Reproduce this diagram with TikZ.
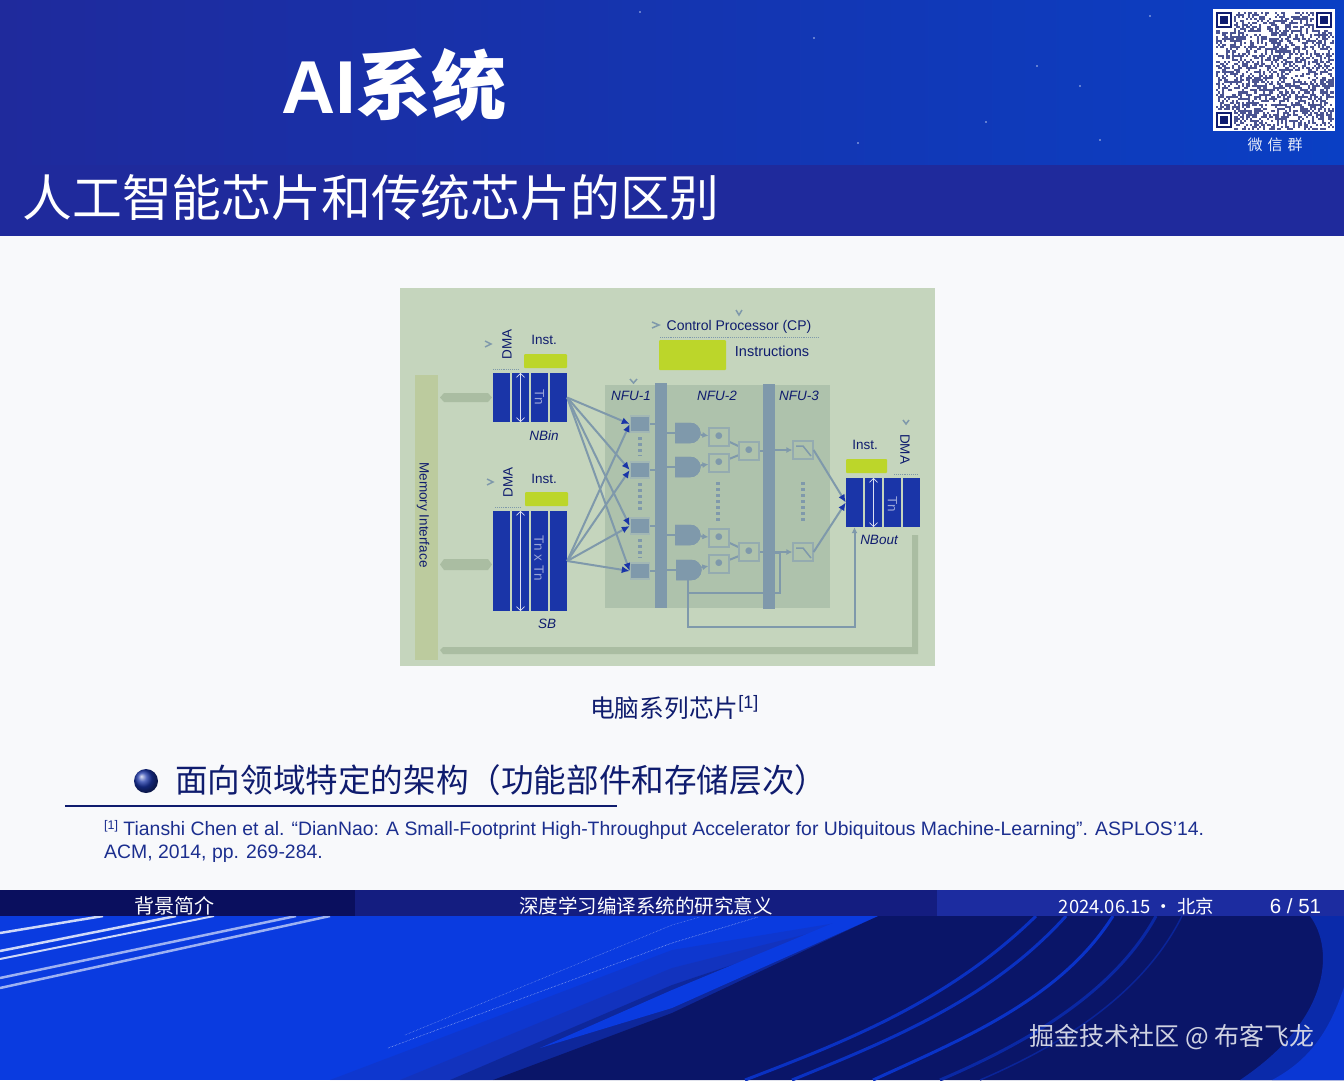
\documentclass[tikz,border=0pt]{standalone}
\usepackage{fontspec}
\setmainfont{Liberation Sans}
\newfontfamily\cjk{Noto Sans CJK SC}
\usetikzlibrary{arrows.meta,shapes.gates.logic.US}
\definecolor{headL}{HTML}{1F2A9C}
\definecolor{headR}{HTML}{0A3FC4}
\definecolor{pagebg}{HTML}{F8F9FB}
\definecolor{figbg}{HTML}{C5D5BD}
\definecolor{nfubg}{HTML}{AEC2AC}
\definecolor{membg}{HTML}{BCCB9E}
\definecolor{busbg}{HTML}{AABDA2}
\definecolor{regblue}{HTML}{1A35A8}
\definecolor{lime}{HTML}{BCD62A}
\definecolor{slate}{HTML}{7F99AB}
\definecolor{navy}{HTML}{0F1C6E}
\definecolor{refblue}{HTML}{1C2F8F}
\definecolor{footA}{HTML}{0A0F5E}
\definecolor{footB}{HTML}{141D80}
\definecolor{footC}{HTML}{1C2CA0}
\definecolor{sea}{HTML}{0A3BE0}
\definecolor{deep}{HTML}{0A1568}
\tikzset{
 lab/.style={inner sep=0pt,font=\cjk\fontsize{#1}{#1}\selectfont},
 small/.style={inner sep=0pt,text=navy,font=\fontsize{13.5}{14}\selectfont},
 ital/.style={small,font=\itshape\fontsize{13.5}{14}\selectfont},
 reg/.style={fill=regblue,draw=none,inner sep=0pt,minimum width=17pt,minimum height=#1},
 inst/.style={fill=lime,rounded corners=1pt,inner sep=0pt},
 unit/.style={fill=slate,draw=slate!50!figbg,line width=1.5pt,inner sep=0pt,minimum width=19pt,minimum height=16pt},
 gate/.style={and gate US,logic gate inputs=nn,fill=slate,draw=slate,inner sep=0pt,minimum width=17pt,minimum height=20pt},
 mult/.style={fill=nfubg,draw=slate!70!figbg,line width=1.2pt,inner sep=0pt,minimum width=20pt,minimum height=18pt},
 bar/.style={fill=slate,inner sep=0pt,minimum width=12pt,minimum height=225pt},
 wire/.style={draw=slate,line width=2pt},
 fan/.style={draw=slate,line width=2pt,-{Latex[length=8pt,width=7pt,color=regblue]}},
 vdots/.style={draw=slate,line width=4pt,dash pattern=on 3pt off 3pt},
 chev/.style={draw=slate,line width=1.5pt},
 thinrule/.style={draw=slate,line width=.9pt,densely dotted},
 arrw/.style={draw=white!85!regblue,line width=.7pt,{Straight Barb[length=4pt]}-{Straight Barb[length=4pt]}},
 streak/.style={draw=white!80!sea,line width=#1},
 ray/.style={draw=#1,line width=3pt}
}
\begin{document}
\begin{tikzpicture}[x=1pt,y=-1pt]
\useasboundingbox (0,0) rectangle (1344,1080);
% page and header
\fill[pagebg] (0,0) rectangle (1344,1080);
\fill[left color=headL,right color=headR] (0,0) rectangle (1344,165);
\fill[headL] (0,165) rectangle (1344,236);
\foreach \sx/\sy in {814/38,1080/86,986/122,858/143,1037/66,1150/16,1100/140,640/12}
 \fill[white!70!headR] (\sx,\sy) circle (.8);
\path
(394,85) node[inner sep=0pt,text=white,font=\bfseries\fontsize{75}{75}\selectfont] (sys) {AI{\cjk\bfseries 系统}}
(371,198) node[lab=49.8,text=white] (title) {人工智能芯片和传统芯片的区别};
% wechat code
\fill[white] (1213,9) rectangle (1335,131);
\pgfmathsetseed{51}
\foreach \i in {0,...,57}
 \foreach \j in {0,...,57} {
  \pgfmathrandominteger{\bit}{0}{1}
  \ifnum\bit=1
   \fill[navy!75] ({1215.5+\i*2.05},{11.5+\j*2.05}) rectangle ++(2.05,2.05);
  \fi
 }
\foreach \qx/\qy in {1214/10,1314/10,1214/110} {
 \fill[white] (\qx,\qy) rectangle ++(20,20);
 \fill[navy] ({\qx+2},{\qy+2}) rectangle ++(16,16);
 \fill[white] ({\qx+4},{\qy+4}) rectangle ++(12,12);
 \fill[navy] ({\qx+6},{\qy+6}) rectangle ++(8,8);
}
\path (1275,145) node[lab=15,text=white!90!headR] (wx) {微\hspace{5pt}信\hspace{5pt}群};
% figure
\fill[figbg] (400,288) rectangle (935,666);
\fill[nfubg] (605,385) rectangle (830,608);
\fill[membg] (415,375) rectangle (438,660);
\fill[busbg] (440,650) -- (443,647) -- (912,647) -- (912,535) -- (918,535) -- (918,654) -- (443,654) -- cycle;
\path
(501.5,397.5) node[reg=49pt] (nbin1) {}
(520.5,397.5) node[reg=49pt] (nbin2) {}
(539.5,397.5) node[reg=49pt] (nbin3) {}
(558.5,397.5) node[reg=49pt] (nbin4) {}
(501.5,561) node[reg=100pt] (sb1) {}
(520.5,561) node[reg=100pt] (sb2) {}
(539.5,561) node[reg=100pt] (sb3) {}
(558.5,561) node[reg=100pt] (sb4) {}
(854.5,502.5) node[reg=49pt] (nbout1) {}
(873.5,502.5) node[reg=49pt] (nbout2) {}
(892.5,502.5) node[reg=49pt] (nbout3) {}
(911,502.5) node[reg=49pt] (nbout4) {}
(545.5,361) node[inst,minimum width=43pt,minimum height=14pt] (i1) {}
(546.5,499) node[inst,minimum width=43pt,minimum height=14pt] (i2) {}
(866.5,466) node[inst,minimum width=41pt,minimum height=14pt] (i3) {}
(692.5,355) node[inst,minimum width=67pt,minimum height=30pt] (i4) {}
(661,495.5) node[bar] (bar1) {}
(769,496) node[bar] (bar2) {}
(640,424) node[unit] (u1) {}
(640,470) node[unit] (u2) {}
(640,526) node[unit] (u3) {}
(640,571) node[unit] (u4) {}
(687,433) node[gate] (g1) {}
(687,467) node[gate] (g2) {}
(687,535) node[gate] (g3) {}
(688,570) node[gate] (g4) {}
(719,437) node[mult] (m1) {}
(719,463) node[mult] (m2) {}
(719,538) node[mult] (m3) {}
(719,564) node[mult] (m4) {}
(749,451) node[mult] (a1) {}
(749,552) node[mult] (a2) {}
(803,450) node[mult] (s1) {}
(803,552) node[mult] (s2) {};
% text of the figure
\path
(423,515) node[small,rotate=-90] (mem) {Memory Interface}
(507,344) node[small,rotate=90] (d1) {DMA}
(508,482) node[small,rotate=90] (d2) {DMA}
(905,449) node[small,rotate=-90] (d3) {DMA}
(544,340) node[small] (t1) {Inst.}
(544,479) node[small] (t2) {Inst.}
(865,445) node[small] (t3) {Inst.}
(739,327) node[small,font=\fontsize{14}{14}\selectfont] (cp) {Control Processor (CP)}
(772,351) node[small,font=\fontsize{14.5}{15}\selectfont] (ins) {Instructions}
(544,436) node[ital] (nb) {NBin}
(547,624) node[ital] (sb) {SB}
(879,540) node[ital] (nbo) {NBout}
(631,396) node[ital] (n1) {NFU-1}
(717,396) node[ital] (n2) {NFU-2}
(799,396) node[ital] (n3) {NFU-3}
(539.5,397.5) node[small,rotate=-90,text=white!55!regblue] (tn1) {Tn}
(539,558) node[small,rotate=-90,text=white!55!regblue] (tn2) {Tn x Tn}
(892.5,504) node[small,rotate=-90,text=white!55!regblue] (tn3) {Tn};
% memory buses
\fill[busbg] (440,397.5) -- (444,393) -- (488,393) -- (492,397.5) -- (488,402) -- (444,402) -- cycle;
\fill[busbg] (440,564.5) -- (444,559) -- (488,559) -- (492,564.5) -- (488,570) -- (444,570) -- cycle;
% fan out of NBin and SB
\foreach \u in {u1,u2,u3,u4} {
 \draw[fan] (nbin4.east) -- (\u.west);
 \draw[fan] (sb4.east) -- (\u.west);
}
\draw[fan] (s1.east) -- (nbout1.west);
\draw[fan] (s2.east) -- (nbout1.west);
% inside the NFU
\foreach \u in {u1,u2,u3,u4} \draw[wire] (\u) -- (\u -| bar1.west);
\foreach \g/\m in {g1/m1,g2/m2,g3/m3,g4/m4} {
 \draw[wire] (\g -| bar1.east) -- (\g);
 \draw[wire,-{Latex[length=6pt,width=6pt]}] (\g) -- (\m);
}
\foreach \m/\a in {m1/a1,m2/a1,m3/a2,m4/a2} \draw[wire] (\m) -- (\a);
\foreach \a/\s in {a1/s1,a2/s2} {
 \draw[wire] (\a) -- (\a -| bar2.west);
 \draw[wire,-{Latex[length=6pt,width=6pt]}] (\s -| bar2.east) -- (\s.west);
}
\path (780,593) coordinate (fb1) (780,553) coordinate (fb2) (688,627) coordinate (fb3);
\draw[wire] (g4.south) |- (fb1) -- (fb2) -- (fb2 -| bar2.east);
\draw[wire,-{Latex[length=6pt,width=6pt]}] (g4.south) -- (fb3) -| (nbout1.south);
% redraw the blocks on top of the wires
\foreach \u in {1,...,4} {
 \node[unit] at (u\u) {};
 \node[gate] at (g\u) {};
 \node[mult] at (m\u) {\textcolor{slate}{\fontsize{18}{18}\selectfont$\bullet$}};
}
\foreach \a in {a1,a2} \node[mult] at (\a) {\textcolor{slate}{\fontsize{18}{18}\selectfont$\bullet$}};
\draw[chev] (796,446) -- (803,446) -- (811,456);
\draw[chev] (796,548) -- (803,548) -- (811,558);
\node[bar] at (bar1) {};
\node[bar] at (bar2) {};
\draw[vdots] (640,437) -- (640,456);
\draw[vdots] (640,483) -- (640,512);
\draw[vdots] (640,539) -- (640,558);
\draw[vdots] (718,482) -- (718,522);
\draw[vdots] (803,482) -- (803,522);
% arrows in the registers and small marks
\draw[arrw] (nbin2.north) -- (nbin2.south);
\draw[arrw] (sb2.north) -- (sb2.south);
\draw[arrw] (nbout2.north) -- (nbout2.south);
\draw[chev] (485,341) -- (491,344) -- (485,347);
\draw[chev] (487,479) -- (493,482) -- (487,485);
\draw[chev] (736,310) -- (739,315) -- (742,310);
\draw[chev] (652,322) -- (659,325) -- (652,328);
\draw[chev] (630,379) -- (633.5,383) -- (637,379);
\draw[chev] (903,420) -- (906,424) -- (909,420);
\draw[thinrule] (493,369) -- (518,369);
\draw[thinrule] (495,507) -- (520,507);
\draw[thinrule] (660,337) -- (818,337);
\draw[thinrule] (894,474) -- (918,474);
% lower part of the slide
\path
(590,708) node[lab=24.7,text=navy,anchor=west] (cap) {电脑系列芯片\raisebox{9pt}{\fontsize{18}{18}\selectfont\rmfamily [1]}}
(175,780) node[lab=32.6,text=navy,anchor=west] (point) {面向领域特定的架构（功能部件和存储层次）}
(146,781) node[circle,inner sep=0pt,minimum size=24pt,ball color=regblue] (ball) {};
\draw[navy,line width=2pt] (65,806) -- (617,806);
\path
(104,830) node[anchor=west,inner sep=0pt,text=refblue,font=\fontsize{19.4}{20}\selectfont] (ref) {\raisebox{6pt}{\fontsize{12.5}{13}\selectfont [1]} Tianshi Chen et al. “DianNao: A Small-Footprint High-Throughput Accelerator for Ubiquitous Machine-Learning”. ASPLOS’14.}
(104,854) node[anchor=west,inner sep=0pt,text=refblue,font=\fontsize{19.4}{20}\selectfont] (ref2) {ACM, 2014, pp. 269-284.};
% bottom background
\fill[sea] (0,916) rectangle (1344,1080);
\fill[footC,opacity=.25] (330,1080) -- (672,950) -- (878,916) -- (878,1010) -- (493,1080) -- cycle;
\fill[footC,opacity=.35] (400,1080) -- (672,968) -- (878,916) -- (878,1010) -- (493,1080) -- cycle;
\fill[deep,opacity=.4] (450,1080) -- (672,985) -- (878,916) -- (878,1010) -- (493,1080) -- cycle;
\fill[deep] (493,1080) -- (672,1013) -- (878,916) -- (1344,916) -- (1344,1080) -- cycle;
\fill[sea] (878,916) -- (850,916) -- (672,990) -- (540,1048) -- (672,1008) -- cycle;
\fill[sea!55!deep] (1344,916) -- (1310,916) .. controls (1335,950) and (1330,1020) .. (1240,1080) -- (1344,1080) -- cycle;
\fill[sea!90!deep] (1344,987) .. controls (1330,1030) and (1310,1060) .. (1272,1080) -- (1344,1080) -- cycle;
\draw[ray=sea!75!deep] (1036,916) .. controls (950,1000) and (850,1040) .. (745,1080);
\draw[ray=sea!75!deep] (1066,916) .. controls (990,1000) and (890,1040) .. (792,1080);
\draw[ray=sea!80!deep] (1113,916) .. controls (1060,1000) and (960,1040) .. (873,1080);
\draw[ray=sea!50!deep] (1156,916) .. controls (1110,1000) and (1010,1050) .. (940,1080);
\draw[ray=sea!40!deep,line width=1.5pt] (1182,916) .. controls (1140,1000) and (1050,1050) .. (980,1080);
\draw[streak=2.5pt] (0,933) -- (103,916);
\draw[streak=2.5pt] (0,951) -- (176,916);
\draw[streak=2pt] (0,959) -- (214,916);
\draw[streak=2.5pt,white!60!sea] (0,978) -- (296,916);
\draw[streak=2.5pt,white!60!sea] (0,988) -- (330,916);
\draw[white!70!sea,line width=.5pt,densely dotted] (388,1048) -- (672,943) -- (758,917);
\draw[white!50!sea,line width=.5pt,densely dotted] (405,1035) -- (672,925) -- (700,917);
% footer
\fill[footA] (0,890) rectangle (355,916);
\fill[footB] (355,890) rectangle (937,916);
\fill[footC] (937,890) rectangle (1344,916);
\path
(174,906) node[lab=20,text=white] (f1) {背景简介}
(646,906) node[lab=19.5,text=white] (f2) {深度学习编译系统的研究意义}
(1136.5,906) node[inner sep=0pt,text=white,font=\cjk\fontsize{18.4}{20}\selectfont] (f3) {2024.06.15 · 北京}
(1295.5,906) node[inner sep=0pt,text=white,font=\fontsize{20.5}{21}\selectfont] (f4) {6 / 51}
(1172,1037) node[lab=25,text=white!80!navy] (mark) {掘金技术社区 @ 布客飞龙};
\end{tikzpicture}
\end{document}
